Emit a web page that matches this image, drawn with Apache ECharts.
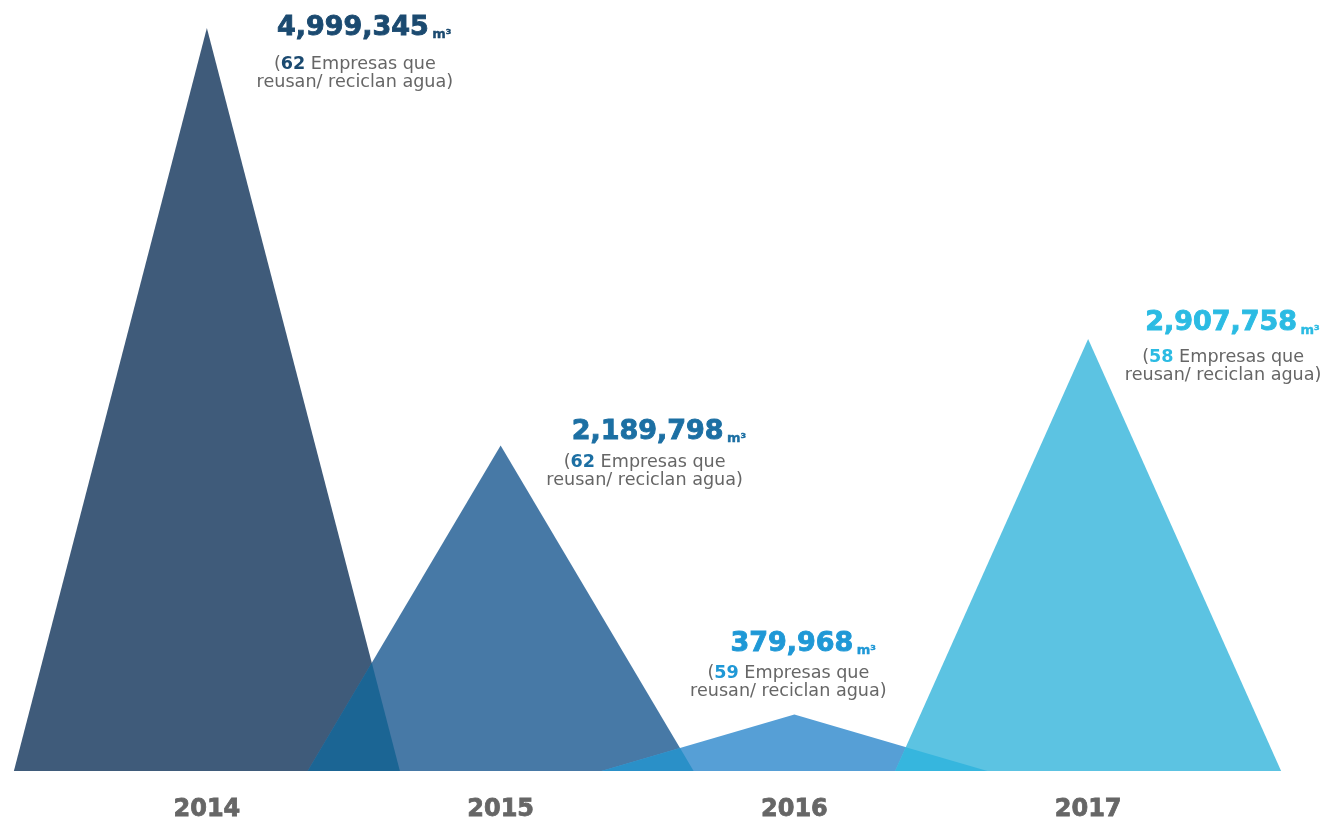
<!DOCTYPE html>
<html><head><meta charset="utf-8">
<script src="https://cdn.jsdelivr.net/npm/echarts@6/dist/echarts.min.js"></script>
<style>html,body{margin:0;padding:0;background:#fff}#c{width:1331px;height:823px}</style>
</head><body><div id="c"></div>
<script>
// ---- data ----
const years = ['2014', '2015', '2016', '2017'];
const volumes = [4999345, 2189798, 379968, 2907758];
const companies = [62, 62, 59, 58];

// ---- styles ----
const triColors = ['#3f5b7a', '#4779a6', '#569fd6', '#5cc3e2'];
const overlapColors = ['#1b6594', '#2a90c8', '#36b6de'];
const valueColors = ['#1b4a70', '#1c6fa3', '#1f98d6', '#2bbbe3'];
const HALF = 0.657; // half base width as fraction of band width
// label offsets relative to the apex: [valueDx, valueDy, subDx, subTopDy]
const labelOffsets = [[70, 0, 148, 27], [71, -13.5, 144, 8], [-64, -71, -6, -50], [57, -15.5, 135, 10]];
const FONT = 'DejaVu Sans';

function triRender(params, api) {
  const i = api.value(0), v = api.value(1);
  const apex = api.coord([i, v]);
  const base = api.coord([i, 0]);
  const hw = api.size([1, 0])[0] * HALF;
  return {
    type: 'polygon',
    shape: { points: [[base[0] - hw, base[1]], [apex[0], apex[1]], [base[0] + hw, base[1]]] },
    style: { fill: triColors[i] }
  };
}

function intersect(p1, p2, p3, p4) {
  const d = (p1[0] - p2[0]) * (p3[1] - p4[1]) - (p1[1] - p2[1]) * (p3[0] - p4[0]);
  const a = p1[0] * p2[1] - p1[1] * p2[0];
  const b = p3[0] * p4[1] - p3[1] * p4[0];
  return [(a * (p3[0] - p4[0]) - (p1[0] - p2[0]) * b) / d, (a * (p3[1] - p4[1]) - (p1[1] - p2[1]) * b) / d];
}

function overlapRender(params, api) {
  const i = api.value(0), v1 = api.value(1), v2 = api.value(2);
  const hw = api.size([1, 0])[0] * HALF;
  const a1 = api.coord([i, v1]), b1 = api.coord([i, 0]);
  const a2 = api.coord([i + 1, v2]), b2 = api.coord([i + 1, 0]);
  const r1 = [b1[0] + hw, b1[1]];
  const l2 = [b2[0] - hw, b2[1]];
  const p = intersect(a1, r1, l2, a2);
  return {
    type: 'polygon',
    shape: { points: [l2, p, r1] },
    style: { fill: overlapColors[i] }
  };
}

function labelRender(params, api) {
  const i = api.value(0), v = api.value(1), n = api.value(2);
  const apex = api.coord([i, v]);
  const o = labelOffsets[i];
  const col = valueColors[i];
  return {
    type: 'group',
    children: [{
      type: 'text',
      x: apex[0] + o[0], y: apex[1] + o[1],
      style: {
        text: '{v|' + v.toLocaleString('en-US') + '} {u|m³}',
        align: 'left', verticalAlign: 'middle',
        rich: {
          v: { fontFamily: FONT, fontSize: 27, fontWeight: 'bold', fill: col, stroke: col, lineWidth: 0.9 },
          u: { fontFamily: FONT, fontSize: 13, fontWeight: 'bold', fill: col, stroke: col, lineWidth: 0.4, verticalAlign: 'bottom' }
        }
      }
    }, {
      type: 'text',
      x: apex[0] + o[2], y: apex[1] + o[3],
      style: {
        text: '({b|' + n + '} Empresas que\nreusan/ reciclan agua)',
        align: 'center', verticalAlign: 'top',
        fontFamily: FONT, fontSize: 17.6, lineHeight: 18, fill: '#666666',
        rich: {
          b: { fontFamily: FONT, fontSize: 17.6, lineHeight: 18, fontWeight: 'bold', fill: col }
        }
      }
    }]
  };
}

const triData = years.map((y, i) => [i, volumes[i]]);
const overlapData = years.slice(0, -1).map((y, i) => [i, volumes[i], volumes[i + 1]]);
const labelData = years.map((y, i) => [i, volumes[i], companies[i]]);

const chart = echarts.init(document.getElementById('c'));
chart.setOption({
  backgroundColor: '#ffffff',
  animation: false,
  grid: { left: 60, width: 1175, top: 28, bottom: 52 },
  xAxis: {
    type: 'category', data: years, boundaryGap: true,
    axisLine: { show: false }, axisTick: { show: false },
    axisLabel: { margin: 27, fontFamily: FONT, fontSize: 24, fontWeight: 'bold', color: '#666666',
      textBorderColor: '#666666', textBorderWidth: 0.8 }
  },
  yAxis: { type: 'value', min: 0, max: 5000000, show: false, splitLine: { show: false } },
  series: [
    { type: 'custom', renderItem: triRender, data: triData, encode: { x: 0, y: 1 }, z: 1 },
    { type: 'custom', renderItem: overlapRender, data: overlapData, encode: { x: 0, y: 1 }, z: 2 },
    { type: 'custom', renderItem: labelRender, data: labelData, encode: { x: 0, y: 1 }, z: 3 }
  ]
});
</script>
</body></html>
